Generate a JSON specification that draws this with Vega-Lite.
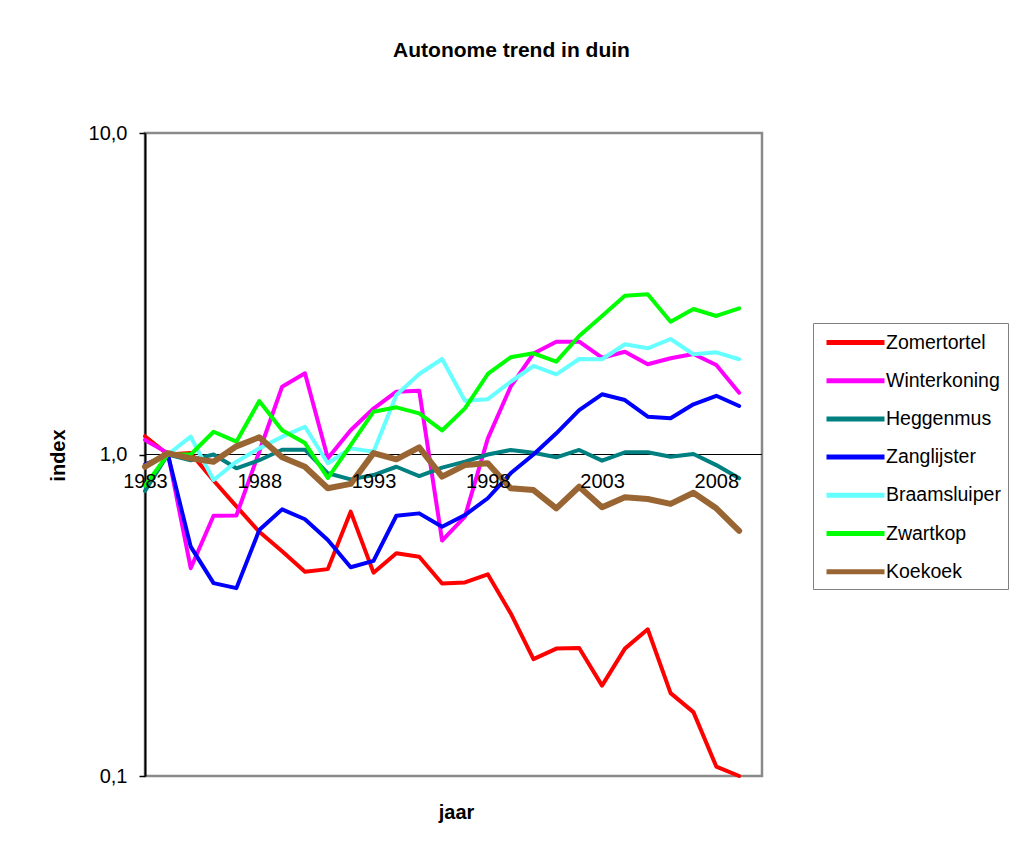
{
  "$schema": "https://vega.github.io/schema/vega-lite/v6.json",
  "width": 617,
  "height": 643,
  "autosize": {"type": "none"},
  "padding": {"left": 145, "top": 133, "right": 252, "bottom": 88},
  "background": "white",
  "config": {
    "font": "Liberation Sans",
    "view": {"stroke": "#8a8a8a", "strokeWidth": 2.5}
  },
  "title": {
    "text": "Autonome trend in duin",
    "font": "Liberation Sans",
    "fontSize": 21,
    "fontWeight": "bold",
    "color": "black",
    "anchor": "middle",
    "frame": "group",
    "dx": 58,
    "offset": 62
  },
  "data": {
    "values": [
      {"jaar":1983,"soort":"Zomertortel","index":1.14},{"jaar":1984,"soort":"Zomertortel","index":1.0},{"jaar":1985,"soort":"Zomertortel","index":1.01},{"jaar":1986,"soort":"Zomertortel","index":0.83},{"jaar":1987,"soort":"Zomertortel","index":0.69},{"jaar":1988,"soort":"Zomertortel","index":0.575},{"jaar":1989,"soort":"Zomertortel","index":0.5},{"jaar":1990,"soort":"Zomertortel","index":0.432},{"jaar":1991,"soort":"Zomertortel","index":0.44},{"jaar":1992,"soort":"Zomertortel","index":0.664},{"jaar":1993,"soort":"Zomertortel","index":0.429},{"jaar":1994,"soort":"Zomertortel","index":0.493},{"jaar":1995,"soort":"Zomertortel","index":0.481},{"jaar":1996,"soort":"Zomertortel","index":0.397},{"jaar":1997,"soort":"Zomertortel","index":0.4},{"jaar":1998,"soort":"Zomertortel","index":0.424},{"jaar":1999,"soort":"Zomertortel","index":0.321},{"jaar":2000,"soort":"Zomertortel","index":0.231},{"jaar":2001,"soort":"Zomertortel","index":0.249},{"jaar":2002,"soort":"Zomertortel","index":0.25},{"jaar":2003,"soort":"Zomertortel","index":0.191},{"jaar":2004,"soort":"Zomertortel","index":0.249},{"jaar":2005,"soort":"Zomertortel","index":0.286},{"jaar":2006,"soort":"Zomertortel","index":0.181},{"jaar":2007,"soort":"Zomertortel","index":0.158},{"jaar":2008,"soort":"Zomertortel","index":0.107},{"jaar":2009,"soort":"Zomertortel","index":0.1},
      {"jaar":1983,"soort":"Winterkoning","index":1.11},{"jaar":1984,"soort":"Winterkoning","index":1.01},{"jaar":1985,"soort":"Winterkoning","index":0.443},{"jaar":1986,"soort":"Winterkoning","index":0.645},{"jaar":1987,"soort":"Winterkoning","index":0.646},{"jaar":1988,"soort":"Winterkoning","index":1.02},{"jaar":1989,"soort":"Winterkoning","index":1.625},{"jaar":1990,"soort":"Winterkoning","index":1.789},{"jaar":1991,"soort":"Winterkoning","index":0.973},{"jaar":1992,"soort":"Winterkoning","index":1.19},{"jaar":1993,"soort":"Winterkoning","index":1.39},{"jaar":1994,"soort":"Winterkoning","index":1.568},{"jaar":1995,"soort":"Winterkoning","index":1.58},{"jaar":1996,"soort":"Winterkoning","index":0.54},{"jaar":1997,"soort":"Winterkoning","index":0.641},{"jaar":1998,"soort":"Winterkoning","index":1.12},{"jaar":1999,"soort":"Winterkoning","index":1.625},{"jaar":2000,"soort":"Winterkoning","index":2.06},{"jaar":2001,"soort":"Winterkoning","index":2.243},{"jaar":2002,"soort":"Winterkoning","index":2.243},{"jaar":2003,"soort":"Winterkoning","index":2.0},{"jaar":2004,"soort":"Winterkoning","index":2.088},{"jaar":2005,"soort":"Winterkoning","index":1.908},{"jaar":2006,"soort":"Winterkoning","index":1.992},{"jaar":2007,"soort":"Winterkoning","index":2.054},{"jaar":2008,"soort":"Winterkoning","index":1.898},{"jaar":2009,"soort":"Winterkoning","index":1.557},
      {"jaar":1983,"soort":"Heggenmus","index":0.77},{"jaar":1984,"soort":"Heggenmus","index":1.0},{"jaar":1985,"soort":"Heggenmus","index":0.96},{"jaar":1986,"soort":"Heggenmus","index":1.0},{"jaar":1987,"soort":"Heggenmus","index":0.906},{"jaar":1988,"soort":"Heggenmus","index":0.96},{"jaar":1989,"soort":"Heggenmus","index":1.035},{"jaar":1990,"soort":"Heggenmus","index":1.035},{"jaar":1991,"soort":"Heggenmus","index":0.874},{"jaar":1992,"soort":"Heggenmus","index":0.837},{"jaar":1993,"soort":"Heggenmus","index":0.863},{"jaar":1994,"soort":"Heggenmus","index":0.916},{"jaar":1995,"soort":"Heggenmus","index":0.857},{"jaar":1996,"soort":"Heggenmus","index":0.91},{"jaar":1997,"soort":"Heggenmus","index":0.95},{"jaar":1998,"soort":"Heggenmus","index":1.0},{"jaar":1999,"soort":"Heggenmus","index":1.033},{"jaar":2000,"soort":"Heggenmus","index":1.013},{"jaar":2001,"soort":"Heggenmus","index":0.98},{"jaar":2002,"soort":"Heggenmus","index":1.033},{"jaar":2003,"soort":"Heggenmus","index":0.957},{"jaar":2004,"soort":"Heggenmus","index":1.016},{"jaar":2005,"soort":"Heggenmus","index":1.016},{"jaar":2006,"soort":"Heggenmus","index":0.984},{"jaar":2007,"soort":"Heggenmus","index":1.004},{"jaar":2008,"soort":"Heggenmus","index":0.927},{"jaar":2009,"soort":"Heggenmus","index":0.843},
      {"jaar":1983,"soort":"Zanglijster","index":0.93},{"jaar":1984,"soort":"Zanglijster","index":1.0},{"jaar":1985,"soort":"Zanglijster","index":0.517},{"jaar":1986,"soort":"Zanglijster","index":0.398},{"jaar":1987,"soort":"Zanglijster","index":0.384},{"jaar":1988,"soort":"Zanglijster","index":0.582},{"jaar":1989,"soort":"Zanglijster","index":0.675},{"jaar":1990,"soort":"Zanglijster","index":0.629},{"jaar":1991,"soort":"Zanglijster","index":0.542},{"jaar":1992,"soort":"Zanglijster","index":0.446},{"jaar":1993,"soort":"Zanglijster","index":0.467},{"jaar":1994,"soort":"Zanglijster","index":0.645},{"jaar":1995,"soort":"Zanglijster","index":0.656},{"jaar":1996,"soort":"Zanglijster","index":0.596},{"jaar":1997,"soort":"Zanglijster","index":0.648},{"jaar":1998,"soort":"Zanglijster","index":0.731},{"jaar":1999,"soort":"Zanglijster","index":0.874},{"jaar":2000,"soort":"Zanglijster","index":1.0},{"jaar":2001,"soort":"Zanglijster","index":1.164},{"jaar":2002,"soort":"Zanglijster","index":1.375},{"jaar":2003,"soort":"Zanglijster","index":1.539},{"jaar":2004,"soort":"Zanglijster","index":1.477},{"jaar":2005,"soort":"Zanglijster","index":1.311},{"jaar":2006,"soort":"Zanglijster","index":1.296},{"jaar":2007,"soort":"Zanglijster","index":1.433},{"jaar":2008,"soort":"Zanglijster","index":1.523},{"jaar":2009,"soort":"Zanglijster","index":1.415},
      {"jaar":1983,"soort":"Braamsluiper","index":0.92},{"jaar":1984,"soort":"Braamsluiper","index":1.0},{"jaar":1985,"soort":"Braamsluiper","index":1.136},{"jaar":1986,"soort":"Braamsluiper","index":0.833},{"jaar":1987,"soort":"Braamsluiper","index":0.95},{"jaar":1988,"soort":"Braamsluiper","index":1.045},{"jaar":1989,"soort":"Braamsluiper","index":1.136},{"jaar":1990,"soort":"Braamsluiper","index":1.22},{"jaar":1991,"soort":"Braamsluiper","index":0.939},{"jaar":1992,"soort":"Braamsluiper","index":1.045},{"jaar":1993,"soort":"Braamsluiper","index":1.02},{"jaar":1994,"soort":"Braamsluiper","index":1.531},{"jaar":1995,"soort":"Braamsluiper","index":1.78},{"jaar":1996,"soort":"Braamsluiper","index":1.982},{"jaar":1997,"soort":"Braamsluiper","index":1.47},{"jaar":1998,"soort":"Braamsluiper","index":1.486},{"jaar":1999,"soort":"Braamsluiper","index":1.684},{"jaar":2000,"soort":"Braamsluiper","index":1.885},{"jaar":2001,"soort":"Braamsluiper","index":1.776},{"jaar":2002,"soort":"Braamsluiper","index":1.982},{"jaar":2003,"soort":"Braamsluiper","index":1.978},{"jaar":2004,"soort":"Braamsluiper","index":2.202},{"jaar":2005,"soort":"Braamsluiper","index":2.139},{"jaar":2006,"soort":"Braamsluiper","index":2.287},{"jaar":2007,"soort":"Braamsluiper","index":2.05},{"jaar":2008,"soort":"Braamsluiper","index":2.079},{"jaar":2009,"soort":"Braamsluiper","index":1.978},
      {"jaar":1983,"soort":"Zwartkop","index":0.8},{"jaar":1984,"soort":"Zwartkop","index":1.0},{"jaar":1985,"soort":"Zwartkop","index":1.0},{"jaar":1986,"soort":"Zwartkop","index":1.177},{"jaar":1987,"soort":"Zwartkop","index":1.096},{"jaar":1988,"soort":"Zwartkop","index":1.467},{"jaar":1989,"soort":"Zwartkop","index":1.19},{"jaar":1990,"soort":"Zwartkop","index":1.085},{"jaar":1991,"soort":"Zwartkop","index":0.845},{"jaar":1992,"soort":"Zwartkop","index":1.07},{"jaar":1993,"soort":"Zwartkop","index":1.359},{"jaar":1994,"soort":"Zwartkop","index":1.402},{"jaar":1995,"soort":"Zwartkop","index":1.343},{"jaar":1996,"soort":"Zwartkop","index":1.188},{"jaar":1997,"soort":"Zwartkop","index":1.392},{"jaar":1998,"soort":"Zwartkop","index":1.78},{"jaar":1999,"soort":"Zwartkop","index":2.006},{"jaar":2000,"soort":"Zwartkop","index":2.064},{"jaar":2001,"soort":"Zwartkop","index":1.944},{"jaar":2002,"soort":"Zwartkop","index":2.337},{"jaar":2003,"soort":"Zwartkop","index":2.697},{"jaar":2004,"soort":"Zwartkop","index":3.118},{"jaar":2005,"soort":"Zwartkop","index":3.15},{"jaar":2006,"soort":"Zwartkop","index":2.589},{"jaar":2007,"soort":"Zwartkop","index":2.835},{"jaar":2008,"soort":"Zwartkop","index":2.697},{"jaar":2009,"soort":"Zwartkop","index":2.849},
      {"jaar":1983,"soort":"Koekoek","index":0.916},{"jaar":1984,"soort":"Koekoek","index":1.01},{"jaar":1985,"soort":"Koekoek","index":0.973},{"jaar":1986,"soort":"Koekoek","index":0.95},{"jaar":1987,"soort":"Koekoek","index":1.06},{"jaar":1988,"soort":"Koekoek","index":1.131},{"jaar":1989,"soort":"Koekoek","index":0.98},{"jaar":1990,"soort":"Koekoek","index":0.916},{"jaar":1991,"soort":"Koekoek","index":0.785},{"jaar":1992,"soort":"Koekoek","index":0.81},{"jaar":1993,"soort":"Koekoek","index":1.01},{"jaar":1994,"soort":"Koekoek","index":0.966},{"jaar":1995,"soort":"Koekoek","index":1.053},{"jaar":1996,"soort":"Koekoek","index":0.853},{"jaar":1997,"soort":"Koekoek","index":0.927},{"jaar":1998,"soort":"Koekoek","index":0.939},{"jaar":1999,"soort":"Koekoek","index":0.785},{"jaar":2000,"soort":"Koekoek","index":0.775},{"jaar":2001,"soort":"Koekoek","index":0.68},{"jaar":2002,"soort":"Koekoek","index":0.794},{"jaar":2003,"soort":"Koekoek","index":0.685},{"jaar":2004,"soort":"Koekoek","index":0.736},{"jaar":2005,"soort":"Koekoek","index":0.727},{"jaar":2006,"soort":"Koekoek","index":0.702},{"jaar":2007,"soort":"Koekoek","index":0.76},{"jaar":2008,"soort":"Koekoek","index":0.68},{"jaar":2009,"soort":"Koekoek","index":0.579}
    ]
  },
  "layer": [
    {
      "mark": {"type": "rule", "color": "black", "strokeWidth": 1.2},
      "encoding": {"y": {"datum": 1}}
    },
    {
      "mark": {"type": "line", "strokeJoin": "round", "strokeCap": "round"},
      "encoding": {
        "x": {
          "field": "jaar",
          "type": "quantitative",
          "scale": {"domain": [1983, 2010], "nice": false, "zero": false},
          "axis": {
            "title": "jaar",
            "orient": "bottom",
            "offset": -321.5,
            "zindex": 1,
            "values": [1983, 1988, 1993, 1998, 2003, 2008],
            "format": "d",
            "grid": false,
            "domain": false,
            "ticks": false,
            "labelFont": "Liberation Sans",
            "labelFontSize": 20,
            "labelColor": "black",
            "labelPadding": 17,
            "labelFlush": false,
            "labelOverlap": false,
            "titleFont": "Liberation Sans",
            "titleFontSize": 20,
            "titleFontWeight": "bold",
            "titleColor": "black",
            "titleX": 311,
            "titleY": 358,
            "titleBaseline": "middle",
            "titleAlign": "center"
          }
        },
        "y": {
          "field": "index",
          "type": "quantitative",
          "scale": {"type": "log", "domain": [0.1, 10], "nice": false},
          "axis": {
            "title": "index",
            "values": [0.1, 1, 10],
            "labelExpr": "replace(format(datum.value, '.1f'), '.', ',')",
            "grid": false,
            "domainColor": "black",
            "domainWidth": 2,
            "tickColor": "black",
            "tickWidth": 1.5,
            "tickSize": 6,
            "labelFont": "Liberation Sans",
            "labelFontSize": 20,
            "labelColor": "black",
            "labelPadding": 12,
            "titleFont": "Liberation Sans",
            "titleFontSize": 20,
            "titleFontWeight": "bold",
            "titleColor": "black",
            "titleAngle": -90,
            "titleX": -87,
            "titleY": 322,
            "titleBaseline": "middle",
            "titleAlign": "center"
          }
        },
        "color": {
          "field": "soort",
          "type": "nominal",
          "sort": ["Zomertortel", "Winterkoning", "Heggenmus", "Zanglijster", "Braamsluiper", "Zwartkop", "Koekoek"],
          "scale": {
            "domain": ["Zomertortel", "Winterkoning", "Heggenmus", "Zanglijster", "Braamsluiper", "Zwartkop", "Koekoek"],
            "range": ["#ff0000", "#ff00ff", "#008080", "#0000ff", "#66ffff", "#00ff00", "#996633"]
          },
          "legend": {
            "title": null,
            "orient": "none",
            "legendX": 668,
            "legendY": 190,
            "strokeColor": "#808080",
            "padding": 7,
            "symbolType": "M-4.6,0H1.2",
            "symbolSize": 400,
            "symbolStrokeWidth": 5,
            "symbolOffset": 40,
            "labelFont": "Liberation Sans",
            "labelFontSize": 19.5,
            "labelColor": "black",
            "labelOffset": 1,
            "rowPadding": 15.2
          }
        },
        "strokeWidth": {
          "condition": {"test": "datum.soort == 'Koekoek'", "value": 6},
          "value": 4
        }
      }
    }
  ]
}
